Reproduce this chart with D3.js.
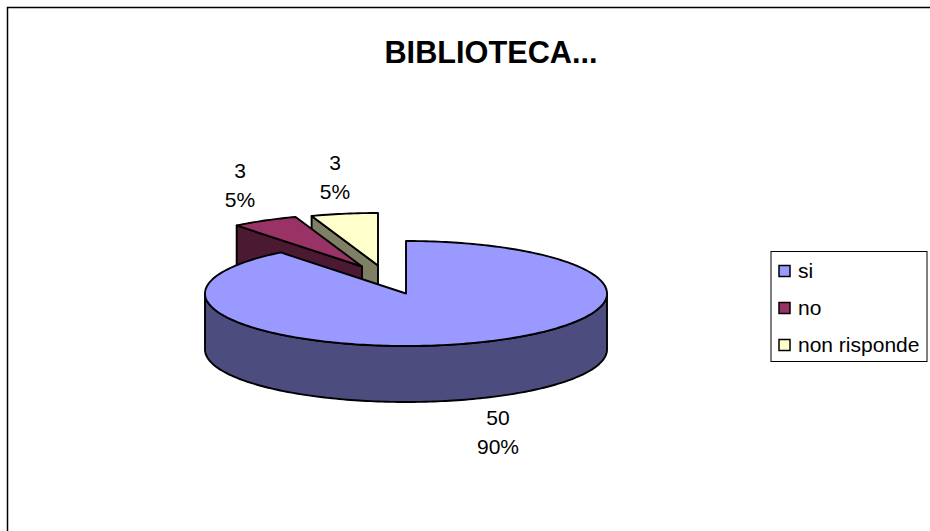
<!DOCTYPE html>
<html>
<head>
<meta charset="utf-8">
<script src="https://cdn.jsdelivr.net/npm/d3@7"></script>
<style>
    html, body { margin: 0; padding: 0; background: #fff; overflow: hidden; }
    text { font-family: "Liberation Sans", Arial, sans-serif; fill: #000; }
</style>
</head>
<body>
<div id="container"></div>
<script>
// values
const title = 'BIBLIOTECA...';
const categories = ['si', 'no', 'non risponde'];
const values = [50, 3, 3];
const percents = ['90%', '5%', '5%'];
const topColors = ['#9999ff', '#993366', '#ffffcc'];
const sideColors = ['#4c4c7f', '#4c1933', '#7f7f66'];

// declare dimensions
const width = 930;
const height = 531;

const cx = 406;
const cy = 293.5;
const rx = 201;
const ry = 52.5;
const depth = 56;

// how far each slice is pulled out of the pie, and where its label goes
const offsets = [[0, 0], [-44, -27], [-28, -28]];
const labelPos = [[498, 418], [240, 171], [335, 163]];

const svg = d3.select('#container')
    .append('svg')
    .attr('width', width)
    .attr('height', height);

// chart frame
svg.append('rect')
    .attr('x', 7.5)
    .attr('y', 7.5)
    .attr('width', width)
    .attr('height', height)
    .attr('fill', '#fff')
    .attr('stroke', '#000')
    .attr('stroke-width', 1.5);

svg.append('text')
    .attr('x', 491)
    .attr('y', 63)
    .attr('text-anchor', 'middle')
    .attr('font-size', 30.7)
    .attr('font-weight', 'bold')
    .text(title);

const slices = d3.pie().sort(null)(values);

const line = d3.line();

// point on the ellipse rim, angle measured clockwise from 12 o'clock
function rim(a, i, drop) {
    return [
        cx + offsets[i][0] + rx * Math.sin(a),
        cy + offsets[i][1] + drop - ry * Math.cos(a)
    ];
}

function arcPoints(a0, a1, i, drop) {
    const n = Math.max(2, Math.ceil((a1 - a0) / 0.02));
    const step = d3.scaleLinear().domain([0, n]).range([a0, a1]);
    return d3.range(n + 1).map((k) => rim(step(k), i, drop));
}

function apex(i, drop) {
    return [cx + offsets[i][0], cy + offsets[i][1] + drop];
}

// draw one slice: walls first, top surface over them
function drawSlice(d) {
    const i = d.index;
    const g = svg.append('g')
        .attr('stroke', '#000')
        .attr('stroke-width', 1.9)
        .attr('stroke-linejoin', 'round');

    if (i === 0) {
        // only the front of the big slice shows
        const front = arcPoints(Math.PI / 2, 3 * Math.PI / 2, i, 0);
        const frontLow = arcPoints(Math.PI / 2, 3 * Math.PI / 2, i, depth).reverse();
        g.append('path')
            .attr('d', line(front.concat(frontLow)) + 'Z')
            .attr('fill', sideColors[i]);
    } else {
        // cut wall that faces the viewer
        const wall = [rim(d.startAngle, i, 0), apex(i, 0), apex(i, depth), rim(d.startAngle, i, depth)];
        g.append('path')
            .attr('d', line(wall) + 'Z')
            .attr('fill', sideColors[i]);
    }

    const top = [apex(i, 0)].concat(arcPoints(d.startAngle, d.endAngle, i, 0));
    g.append('path')
        .attr('d', line(top) + 'Z')
        .attr('fill', topColors[i]);
}

// back slices first so the big one covers them
[slices[2], slices[1], slices[0]].forEach(drawSlice);

// data labels
slices.forEach((d) => {
    const pos = labelPos[d.index];
    const label = svg.append('text')
        .attr('text-anchor', 'middle')
        .attr('font-size', 21);
    label.append('tspan')
        .attr('x', pos[0])
        .attr('y', pos[1] + 7)
        .text(d.value);
    label.append('tspan')
        .attr('x', pos[0])
        .attr('y', pos[1] + 36)
        .text(percents[d.index]);
});

// legend
const legend = svg.append('g');

legend.append('rect')
    .attr('x', 771)
    .attr('y', 251.5)
    .attr('width', 156)
    .attr('height', 110)
    .attr('fill', '#fff')
    .attr('stroke', '#000')
    .attr('stroke-width', 1);

const legendY = d3.scalePoint()
    .domain(categories)
    .range([271, 345]);

categories.forEach((c, i) => {
    legend.append('rect')
        .attr('x', 779)
        .attr('y', legendY(c) - 5.5)
        .attr('width', 11)
        .attr('height', 11)
        .attr('fill', topColors[i])
        .attr('stroke', '#000')
        .attr('stroke-width', 1.5);
    legend.append('text')
        .attr('x', 798)
        .attr('y', legendY(c) + 7)
        .attr('font-size', 21)
        .text(c);
});
</script>
</body>
</html>
